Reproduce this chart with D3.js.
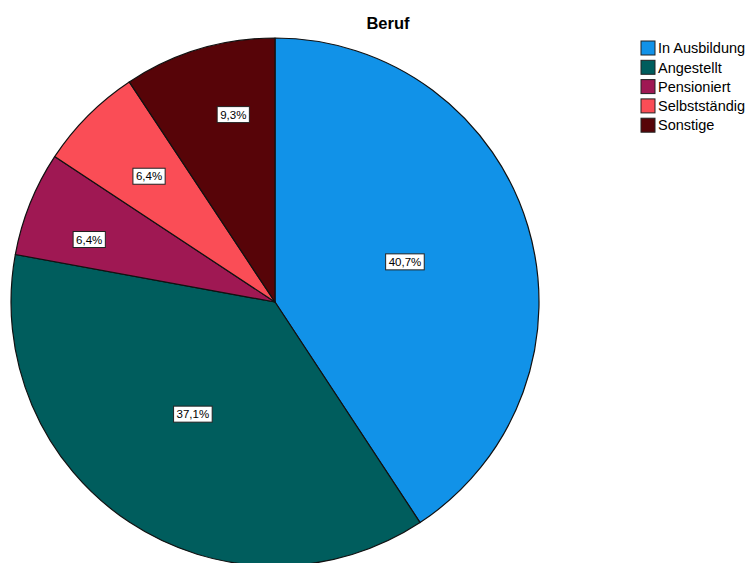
<!DOCTYPE html>
<html>
<head>
<meta charset="utf-8">
<script src="https://cdn.jsdelivr.net/npm/d3@7"></script>
<style>
  html, body { margin: 0; padding: 0; background: #fff; }
  svg { display: block; font-family: "Liberation Sans", Arial, sans-serif; }
</style>
</head>
<body>
<svg id="chart" width="751" height="563"></svg>
<script>
// Occupation shares (percent)
const categories = ["In Ausbildung", "Angestellt", "Pensioniert", "Selbstständig", "Sonstige"];
const values = [40.7, 37.1, 6.4, 6.4, 9.3];
const colors = ["#1192E8", "#005D5D", "#9F1853", "#FA4D56", "#570408"];
const title = "Beruf";

// Layout
const width = 751, height = 563;
const cx = 275, cy = 302, radius = 264;
// label placement: distance from centre and angular shift (degrees) from slice middle
const labelRadius = [136, 139, 196, 178, 192];
const labelShift = [-0.5, 2.7, -3.3, 0, 4.2];

const svg = d3.select("#chart");

svg.append("text")
  .attr("x", 388).attr("y", 29)
  .attr("text-anchor", "middle")
  .attr("font-size", 16.5)
  .attr("font-weight", "bold")
  .attr("fill", "#000")
  .text(title);

const data = categories.map((c, i) => ({ name: c, value: values[i], color: colors[i], i }));

const pie = d3.pie().value(d => d.value).sort(null);
const arcs = pie(data);
const arc = d3.arc().innerRadius(0).outerRadius(radius);

const g = svg.append("g").attr("transform", `translate(${cx},${cy})`);

g.selectAll("path.slice")
  .data(arcs)
  .join("path")
  .attr("class", "slice")
  .attr("d", arc)
  .attr("fill", d => d.data.color)
  .attr("stroke", "#111")
  .attr("stroke-width", 1.2)
  .attr("stroke-linejoin", "round");

// Value labels in white boxes
const fmt = v => v.toFixed(1).replace(".", ",") + "%";
const labels = g.selectAll("g.lbl")
  .data(arcs)
  .join("g")
  .attr("class", "lbl")
  .attr("transform", d => {
    const a = (d.startAngle + d.endAngle) / 2 + labelShift[d.data.i] * Math.PI / 180;
    const r = labelRadius[d.data.i];
    return `translate(${Math.sin(a) * r},${-Math.cos(a) * r})`;
  });

labels.each(function(d) {
  const sel = d3.select(this);
  const t = sel.append("text")
    .attr("text-anchor", "middle")
    .attr("dy", "0.36em")
    .attr("font-size", 11.5)
    .attr("fill", "#000")
    .text(fmt(d.data.value));
  const bb = t.node().getBBox();
  sel.insert("rect", "text")
    .attr("x", bb.x - 3)
    .attr("y", -8)
    .attr("width", bb.width + 6)
    .attr("height", 16)
    .attr("fill", "#fff")
    .attr("stroke", "#222")
    .attr("stroke-width", 1);
});

// Legend
const legend = svg.append("g").attr("transform", "translate(641,41)");
const rows = legend.selectAll("g")
  .data(data)
  .join("g")
  .attr("transform", (d, i) => `translate(0,${i * 19.3})`);
rows.append("rect")
  .attr("width", 14).attr("height", 14)
  .attr("fill", d => d.color)
  .attr("stroke", "#222")
  .attr("stroke-width", 1);
rows.append("text")
  .attr("x", 17).attr("y", 7)
  .attr("dy", "0.36em")
  .attr("font-size", 14.5)
  .attr("fill", "#000")
  .text(d => d.name);
</script>
</body>
</html>
